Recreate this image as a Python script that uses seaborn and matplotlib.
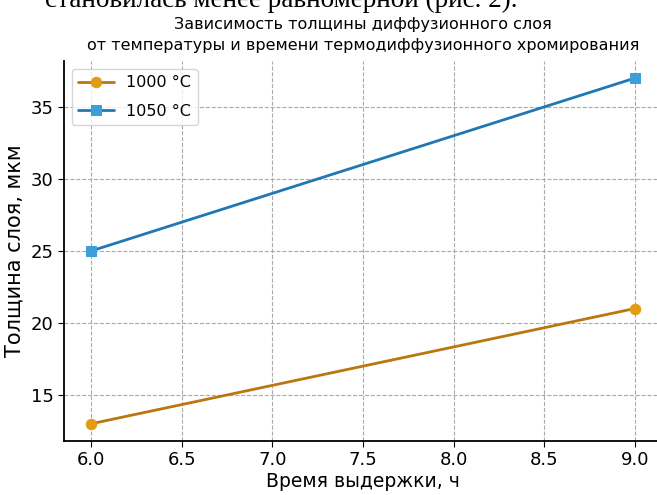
import pandas as pd
import matplotlib.pyplot as plt
import seaborn as sns

# данные с графика
hours = [6.0, 9.0]
thick_1000 = [13, 21]
thick_1050 = [25, 37]
labels = ['1000 °C', '1050 °C']

df = pd.DataFrame({
    'Время': hours * 2,
    'Толщина': thick_1000 + thick_1050,
    'Режим': [labels[0]] * 2 + [labels[1]] * 2,
})

sns.set_style("ticks")
plt.rcParams['font.family'] = ['DejaVu Sans']
plt.rcParams['text.color'] = 'black'
plt.rcParams['axes.labelcolor'] = 'black'
plt.rcParams['xtick.color'] = 'black'
plt.rcParams['ytick.color'] = 'black'

fig = plt.figure(figsize=(6.57, 4.95), dpi=100)
ax = fig.add_axes([0.0974, 0.109, 0.91, 0.768])

line_colors = ['#b9770e', '#1f78b4']
face_colors = ['#e39b12', '#3a9fdc']
sns.lineplot(data=df, x='Время', y='Толщина', hue='Режим', style='Режим',
             markers=['o', 's'], dashes=False, palette=line_colors,
             linewidth=2, markersize=7.5, ax=ax)

# светлые маркеры как на оригинале
for ln, fc in zip(ax.lines, face_colors):
    ln.set_markerfacecolor(fc)
    ln.set_markeredgecolor(fc)

ax.grid(True, linestyle='--', color='#aaaaaa', linewidth=0.8)
sns.despine(ax=ax)
ax.spines['left'].set_linewidth(1.3)
ax.spines['bottom'].set_linewidth(1.3)
ax.spines['left'].set_color('black')
ax.spines['bottom'].set_color('black')
ax.tick_params(labelsize=13, length=4)
ax.set_xticks([6.0, 6.5, 7.0, 7.5, 8.0, 8.5, 9.0])
ax.set_yticks([15, 20, 25, 30, 35])

ax.set_xlabel('Время выдержки, ч', fontsize=13.5, labelpad=2)
ax.set_ylabel('Толщина слоя, мкм', fontsize=15)
ax.set_title('Зависимость толщины диффузионного слоя\n'
             'от температуры и времени термодиффузионного хромирования',
             fontsize=11.5, pad=8, linespacing=1.45)

leg = ax.legend(title=None, loc='upper left', fontsize=11.5, frameon=True,
                labelspacing=0.85, handlelength=2.2)
leg.get_frame().set_edgecolor('#cccccc')
for h, fc in zip(leg.legend_handles, face_colors):
    h.set_markerfacecolor(fc)
    h.set_markeredgecolor(fc)

# обрезанная строка текста документа сверху
fig.text(0.068, 0.985, 'становилась менее равномерной (рис. 2).',
         fontsize=19.5, family='Liberation Serif', va='baseline')

plt.savefig('out.png', dpi=100)
